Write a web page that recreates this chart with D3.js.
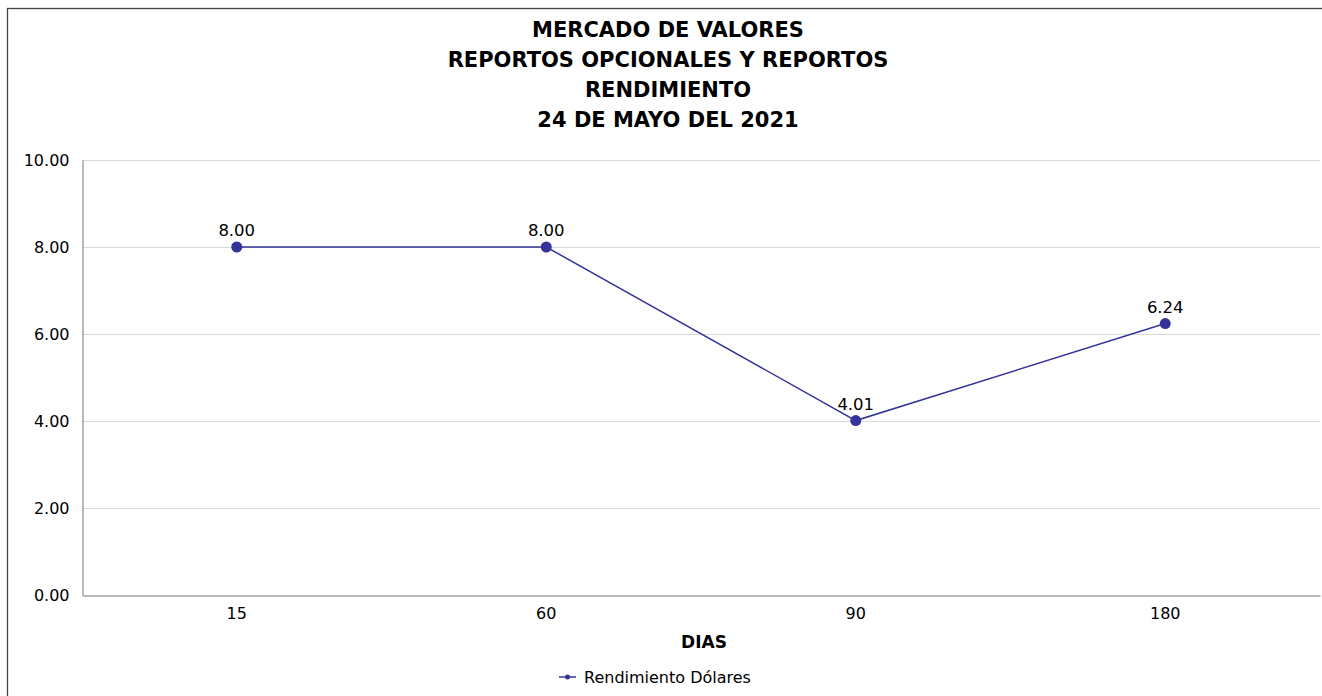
<!DOCTYPE html>
<html>
<head>
<meta charset="utf-8">
<script src="https://cdn.jsdelivr.net/npm/d3@7"></script>
<style>
  body { margin: 0; background: #fff; }
  svg { display: block; font-family: "DejaVu Sans", Verdana, sans-serif; }
</style>
</head>
<body>
<svg width="1322" height="696"></svg>
<script>
const titleLines = ["MERCADO DE VALORES", "REPORTOS OPCIONALES Y REPORTOS", "RENDIMIENTO", "24 DE MAYO DEL 2021"];
const dias = ["15", "60", "90", "180"];
const rendimiento = [8.00, 8.00, 4.01, 6.24];
const yTicks = [0, 2, 4, 6, 8, 10];
const seriesName = "Rendimiento Dólares";
const xTitle = "DIAS";

let svg = d3.select('svg'),
  width = +svg.attr('width'),
  height = +svg.attr('height');

const margin = { left: 82, right: 2, top: 160, bottom: 101 };
const lineColor = '#333399';

// outer frame
svg.append('rect')
  .attr('x', 7.5).attr('y', 8.5)
  .attr('width', width + 20).attr('height', height + 20)
  .attr('fill', 'none')
  .attr('stroke', '#444')
  .attr('stroke-width', 1.3);

svg.append('g')
  .selectAll('text')
  .data(titleLines)
  .enter()
  .append('text')
  .attr('x', 668)
  .attr('y', (d, i) => 37 + i * 30)
  .attr('text-anchor', 'middle')
  .attr('font-weight', 'bold')
  .attr('font-size', 21)
  .text(d => d);

const x = d3.scaleBand()
  .domain(dias)
  .range([margin.left, width - margin.right]);

const y = d3.scaleLinear()
  .domain([0, 10])
  .range([height - margin.bottom, margin.top]);

// gridlines
svg.append('g')
  .selectAll('line')
  .data(yTicks.filter(d => d > 0))
  .enter()
  .append('line')
  .attr('x1', margin.left)
  .attr('x2', width - margin.right)
  .attr('y1', d => Math.round(y(d)) + 0.5)
  .attr('y2', d => Math.round(y(d)) + 0.5)
  .attr('stroke', '#d9d9d9');

// y axis
let yAxis = svg.append('g')
  .attr('transform', 'translate(' + (margin.left + 0.5) + ',0)')
  .call(d3.axisLeft(y).tickValues(yTicks).tickFormat(d3.format('.2f')).tickSize(0).tickPadding(13));
yAxis.select('.domain').attr('stroke', '#777');
yAxis.selectAll('text').attr('font-size', 16).attr('fill', '#000').attr('font-family', '"DejaVu Sans", sans-serif');

// x axis
let xAxis = svg.append('g')
  .attr('transform', 'translate(0,' + (Math.round(y(0)) + 0.5) + ')')
  .call(d3.axisBottom(x).tickSize(0).tickPadding(12));
xAxis.select('.domain').attr('stroke', '#777');
xAxis.selectAll('text').attr('font-size', 16).attr('fill', '#000').attr('font-family', '"DejaVu Sans", sans-serif');

svg.append('text')
  .attr('x', (margin.left + width - margin.right) / 2 + 3)
  .attr('y', 648)
  .attr('text-anchor', 'middle')
  .attr('font-weight', 'bold')
  .attr('font-size', 17)
  .text(xTitle);

const pts = dias.map((d, i) => ({ cat: d, value: rendimiento[i] }));
const cx = d => x(d.cat) + x.bandwidth() / 2;

svg.append('path')
  .datum(pts)
  .attr('fill', 'none')
  .attr('stroke', lineColor)
  .attr('stroke-width', 1.5)
  .attr('d', d3.line().x(cx).y(d => y(d.value)));

svg.append('g')
  .selectAll('circle')
  .data(pts)
  .enter()
  .append('circle')
  .attr('cx', cx)
  .attr('cy', d => y(d.value))
  .attr('r', 5.5)
  .attr('fill', lineColor);

svg.append('g')
  .selectAll('text')
  .data(pts)
  .enter()
  .append('text')
  .attr('x', cx)
  .attr('y', d => y(d.value) - 11)
  .attr('text-anchor', 'middle')
  .attr('font-size', 16.5)
  .text(d => d3.format('.2f')(d.value));

// legend
let legend = svg.append('g').attr('transform', 'translate(559,677)');
legend.append('line')
  .attr('x1', 0).attr('x2', 17)
  .attr('stroke', lineColor).attr('stroke-width', 1.5);
legend.append('circle')
  .attr('cx', 8.5).attr('r', 2.5).attr('fill', lineColor);
legend.append('text')
  .attr('x', 25).attr('y', 6)
  .attr('font-size', 16)
  .text(seriesName);
</script>
</body>
</html>
